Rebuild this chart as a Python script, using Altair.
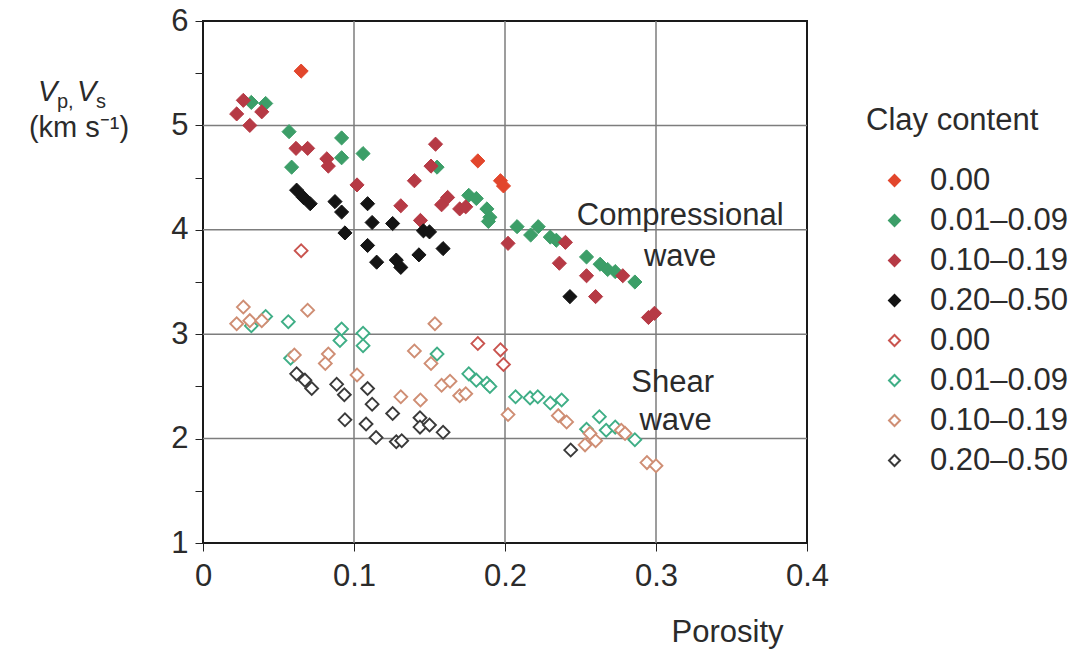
import json
import altair as alt
import pandas as pd

FONT = "Liberation Sans"
TEXT = "#2b2b2b"

# Legend entries: four clay-content classes, first as filled (Vp) then open (Vs) diamonds
KEYS = ["f0", "f1", "f2", "f3", "o0", "o1", "o2", "o3"]
CLAY_LABELS = ["0.00", "0.01–0.09", "0.10–0.19", "0.20–0.50"]
FILL_COLORS = ["#e2462c", "#3c9e68", "#b63a45", "#141414",
               "#ffffff", "#ffffff", "#ffffff", "#ffffff"]
STROKE_COLORS = ["#e2462c", "#3c9e68", "#b63a45", "#141414",
                 "#c9544f", "#3fae86", "#cf8e74", "#3a3a3a"]

# Compressional-wave velocities (km/s) against porosity
vp_clean_phi = [0.065, 0.182, 0.197, 0.199]
vp_clean = [5.52, 4.66, 4.47, 4.42]

vp_low_phi = [0.032, 0.0415, 0.057, 0.0587, 0.0918, 0.0918, 0.106, 0.155, 0.176, 0.181,
              0.188, 0.190, 0.189, 0.208, 0.217, 0.222, 0.230, 0.234, 0.254, 0.263,
              0.268, 0.273, 0.286]
vp_low = [5.22, 5.21, 4.94, 4.60, 4.88, 4.69, 4.73, 4.60, 4.33, 4.30,
          4.20, 4.12, 4.08, 4.03, 3.95, 4.03, 3.93, 3.90, 3.74, 3.67,
          3.62, 3.60, 3.50]

vp_mid_phi = [0.0267, 0.0223, 0.0389, 0.031, 0.0616, 0.0693, 0.082, 0.083, 0.102, 0.131,
              0.140, 0.154, 0.151, 0.162, 0.158, 0.170, 0.174, 0.144, 0.202, 0.240,
              0.236, 0.254, 0.260, 0.278, 0.295, 0.299]
vp_mid = [5.24, 5.11, 5.13, 5.00, 4.78, 4.78, 4.68, 4.61, 4.43, 4.23,
          4.47, 4.82, 4.61, 4.31, 4.24, 4.20, 4.22, 4.09, 3.87, 3.88,
          3.68, 3.56, 3.36, 3.56, 3.16, 3.20]

vp_high_phi = [0.062, 0.0665, 0.071, 0.0874, 0.0918, 0.109, 0.112, 0.1256, 0.094, 0.109,
               0.115, 0.128, 0.131, 0.146, 0.150, 0.143, 0.159, 0.243]
vp_high = [4.38, 4.31, 4.25, 4.27, 4.17, 4.25, 4.07, 4.06, 3.97, 3.85,
           3.69, 3.71, 3.64, 3.99, 3.98, 3.76, 3.82, 3.36]

# Shear-wave velocities (km/s) against porosity
vs_clean_phi = [0.065, 0.182, 0.197, 0.199]
vs_clean = [3.80, 2.91, 2.85, 2.71]

vs_low_phi = [0.032, 0.0415, 0.0565, 0.058, 0.0918, 0.0907, 0.106, 0.106, 0.155, 0.176,
              0.181, 0.188, 0.190, 0.207, 0.2166, 0.2217, 0.230, 0.2375, 0.2625, 0.254,
              0.267, 0.273, 0.286]
vs_low = [3.08, 3.17, 3.12, 2.77, 3.05, 2.94, 3.01, 2.89, 2.81, 2.62,
          2.56, 2.53, 2.50, 2.40, 2.39, 2.40, 2.34, 2.37, 2.21, 2.09,
          2.08, 2.11, 1.99]

vs_mid_phi = [0.0267, 0.0223, 0.031, 0.0389, 0.0693, 0.0605, 0.083, 0.081, 0.102, 0.131,
              0.140, 0.1536, 0.151, 0.158, 0.1636, 0.170, 0.174, 0.144, 0.202, 0.2353,
              0.2408, 0.2563, 0.253, 0.260, 0.277, 0.2795, 0.294, 0.300]
vs_mid = [3.26, 3.10, 3.13, 3.13, 3.23, 2.80, 2.81, 2.72, 2.61, 2.40,
          2.84, 3.10, 2.72, 2.51, 2.55, 2.41, 2.43, 2.37, 2.23, 2.22,
          2.16, 2.05, 1.94, 1.98, 2.08, 2.05, 1.77, 1.74]

vs_high_phi = [0.062, 0.0675, 0.072, 0.0885, 0.0936, 0.109, 0.112, 0.094, 0.108, 0.1146,
               0.1256, 0.128, 0.1316, 0.1437, 0.1437, 0.150, 0.159, 0.2435]
vs_high = [2.62, 2.56, 2.48, 2.52, 2.42, 2.48, 2.33, 2.18, 2.14, 2.01,
           2.24, 1.97, 1.98, 2.20, 2.11, 2.13, 2.06, 1.89]

GRID_X = [0.1, 0.2, 0.3]
GRID_Y = [2, 3, 4, 5]

annotations = pd.DataFrame({
    "label": ["Compressional", "wave", "Shear", "wave"],
    "phi": [0.316, 0.316, 0.311, 0.313],
    "v": [4.05, 3.65, 2.45, 2.08],
})


def frame(phi, v, key):
    return pd.DataFrame({"porosity": phi, "velocity": v, "grp": key})


filled = pd.concat([
    frame(vp_clean_phi, vp_clean, "f0"),
    frame(vp_low_phi, vp_low, "f1"),
    frame(vp_mid_phi, vp_mid, "f2"),
    frame(vp_high_phi, vp_high, "f3"),
])
hollow = pd.concat([
    frame(vs_clean_phi, vs_clean, "o0"),
    frame(vs_low_phi, vs_low, "o1"),
    frame(vs_mid_phi, vs_mid, "o2"),
    frame(vs_high_phi, vs_high, "o3"),
])

x_scale = alt.Scale(domain=[0, 0.4], nice=False, zero=False)
y_scale = alt.Scale(domain=[1, 6], nice=False, zero=False)

label_expr = "{labels}[indexof({keys}, datum.value) % 4]".format(
    labels=json.dumps(CLAY_LABELS, ensure_ascii=False), keys=json.dumps(KEYS))

legend = alt.Legend(
    title="Clay content", orient="none", legendX=663, legendY=85,
    labelExpr=label_expr, symbolType="diamond", symbolSize=120,
    symbolStrokeWidth=2, symbolOpacity=1,
    labelFont=FONT, labelFontSize=31, labelColor=TEXT,
    titleFont=FONT, titleFontSize=31, titleFontWeight="normal", titleColor=TEXT,
    rowPadding=8, titlePadding=28, symbolOffset=13, labelOffset=20,
)

fill_enc = alt.Fill("grp:N", scale=alt.Scale(domain=KEYS, range=FILL_COLORS), legend=legend)
stroke_enc = alt.Stroke("grp:N", scale=alt.Scale(domain=KEYS, range=STROKE_COLORS), legend=legend)

x_axis = alt.Axis(values=[0, 0.1, 0.2, 0.3, 0.4], format=".1~f", title="Porosity",
                  grid=False, domain=False, tickSize=8, tickColor="#222",
                  labelPadding=10, labelFlush=False,
                  titleX=524, titleY=89, titleAlign="center", titleBaseline="middle",
                  labelFont=FONT, labelFontSize=31, labelColor=TEXT,
                  titleFont=FONT, titleFontSize=31, titleFontWeight="normal",
                  titleColor=TEXT)
y_axis = alt.Axis(values=[1, 1.5, 2, 2.5, 3, 3.5, 4, 4.5, 5, 5.5, 6],
                  labelExpr="datum.value % 1 == 0 ? format(datum.value, 'd') : ''",
                  title=None, grid=False, domain=False, tickSize=8, tickColor="#222",
                  labelPadding=7, labelFlush=False,
                  labelFont=FONT, labelFontSize=31, labelColor=TEXT)

vgrid = alt.Chart(pd.DataFrame({"gx": GRID_X})).mark_rule(
    color="#7d7d7d", strokeWidth=1.5
).encode(x=alt.X("gx:Q", scale=x_scale, axis=x_axis))

hgrid = alt.Chart(pd.DataFrame({"gy": GRID_Y})).mark_rule(
    color="#7d7d7d", strokeWidth=1.5
).encode(y=alt.Y("gy:Q", scale=y_scale, axis=y_axis))

open_pts = alt.Chart(hollow).mark_point(
    shape="diamond", filled=True, size=165, strokeWidth=1.9, opacity=1
).encode(
    x=alt.X("porosity:Q", scale=x_scale, axis=x_axis),
    y=alt.Y("velocity:Q", scale=y_scale, axis=y_axis),
    fill=fill_enc, stroke=stroke_enc,
)

solid_pts = alt.Chart(filled).mark_point(
    shape="diamond", filled=True, size=200, strokeWidth=1, opacity=1
).encode(
    x=alt.X("porosity:Q", scale=x_scale, axis=x_axis),
    y=alt.Y("velocity:Q", scale=y_scale, axis=y_axis),
    fill=fill_enc, stroke=stroke_enc,
)

notes = alt.Chart(annotations).mark_text(
    font=FONT, fontSize=31, color=TEXT, align="center", baseline="alphabetic"
).encode(
    x=alt.X("phi:Q", scale=x_scale, axis=x_axis),
    y=alt.Y("v:Q", scale=y_scale, axis=y_axis),
    text="label:N",
)

# Vertical-axis title assembled from pieces: italic V with subscripts, then units
title_parts = pd.DataFrame({
    "txt": ["V", "p,", "V", "s"],
    "px": [-165, -146, -126, -107],
    "py": [80, 87, 80, 87],
    "size": [29, 20, 29, 20],
    "style": ["italic", "normal", "italic", "normal"],
})


def title_piece(i):
    row = title_parts.iloc[i]
    return alt.Chart(pd.DataFrame({"t": [row["txt"]]})).mark_text(
        font=FONT, fontSize=int(row["size"]), fontStyle=row["style"], color=TEXT,
        align="left", baseline="alphabetic"
    ).encode(x=alt.value(float(row["px"])), y=alt.value(float(row["py"])), text="t:N")


units = alt.Chart(pd.DataFrame({"t": ["(km s⁻¹)"]})).mark_text(
    font=FONT, fontSize=29, color=TEXT, align="center", baseline="alphabetic"
).encode(x=alt.value(-124), y=alt.value(116), text="t:N")

chart = alt.layer(
    vgrid, hgrid, open_pts, solid_pts, notes,
    *[title_piece(i) for i in range(len(title_parts))], units,
).properties(
    width=604, height=522,
    autosize=alt.AutoSizeParams(type="none"),
    padding={"left": 203, "top": 21, "right": 261, "bottom": 108},
    background="white",
).configure_view(
    stroke="#1a1a1a", strokeWidth=2
)

chart.save("out.html", embed_options={"renderer": "svg", "actions": False})
